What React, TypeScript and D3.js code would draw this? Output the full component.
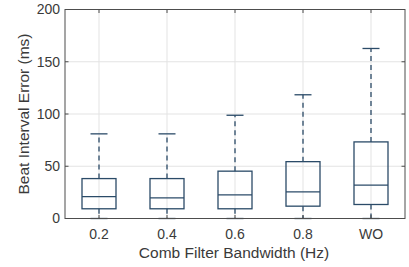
import { useEffect, useRef } from 'react';
import * as d3 from 'd3';

const categories = ['0.2', '0.4', '0.6', '0.8', 'WO'];
const q1 = [9.3, 9.3, 9.3, 11.8, 13.4];
const medians = [21, 19.8, 22.6, 25.5, 31.9];
const q3 = [38.2, 38.2, 45.3, 54.4, 73.3];
const whiskLo = [0, 0, 0, 0, 0];
const whiskHi = [81, 81, 98.8, 118.4, 162.7];
const yTicks = [0, 50, 100, 150, 200];

const BOX = '#2b4b68';
const TEXT = '#3a3a3a';

export default function App() {
  const svgRef = useRef<SVGSVGElement>(null);

  useEffect(() => {
    if (!svgRef.current) return;
    const W = 409, H = 267, PAD = { t: 9.5, r: 4, b: 48.5, l: 65 };
    const svg = d3.select(svgRef.current);
    svg.selectAll('*').remove();
    svg.attr('width', W).attr('height', H);

    const x = d3.scaleBand().domain(categories).range([PAD.l, W - PAD.r]);
    const y = d3.scaleLinear().domain([0, 200]).range([H - PAD.b, PAD.t]);
    const font = 'Helvetica, Arial, "Liberation Sans", sans-serif';

    // grid
    yTicks.forEach(t => {
      svg.append('line')
        .attr('x1', PAD.l).attr('x2', W - PAD.r).attr('y1', y(t)).attr('y2', y(t))
        .attr('stroke', '#e3e3e3').attr('stroke-width', 1);
    });
    categories.forEach(c => {
      const cx = x(c)! + x.bandwidth() / 2;
      svg.append('line')
        .attr('x1', cx).attr('x2', cx).attr('y1', PAD.t).attr('y2', H - PAD.b)
        .attr('stroke', '#e3e3e3').attr('stroke-width', 1);
    });

    // boxes
    const bw = x.bandwidth() / 2;
    categories.forEach((c, i) => {
      const cx = x(c)! + x.bandwidth() / 2;
      const g = svg.append('g').attr('stroke', BOX).attr('fill', 'none').attr('stroke-width', 1.3);
      g.append('line').attr('x1', cx).attr('x2', cx).attr('y1', y(q3[i])).attr('y2', y(whiskHi[i]))
        .attr('stroke-dasharray', '5,4');
      g.append('line').attr('x1', cx).attr('x2', cx).attr('y1', y(q1[i])).attr('y2', y(whiskLo[i]))
        .attr('stroke-dasharray', '5,4');
      [whiskHi[i], whiskLo[i]].forEach(v => {
        g.append('line').attr('x1', cx - bw / 4).attr('x2', cx + bw / 4).attr('y1', y(v)).attr('y2', y(v));
      });
      g.append('rect').attr('x', cx - bw / 2).attr('width', bw)
        .attr('y', y(q3[i])).attr('height', y(q1[i]) - y(q3[i]));
      g.append('line').attr('x1', cx - bw / 2).attr('x2', cx + bw / 2)
        .attr('y1', y(medians[i])).attr('y2', y(medians[i]));
    });

    // axes box
    const ax = svg.append('g').attr('stroke', '#4d4d4d').attr('stroke-width', 1).attr('fill', 'none');
    ax.append('rect').attr('x', PAD.l).attr('y', PAD.t)
      .attr('width', W - PAD.r - PAD.l).attr('height', H - PAD.b - PAD.t);
    yTicks.forEach(t => {
      ax.append('line').attr('x1', PAD.l).attr('x2', PAD.l + 3.5).attr('y1', y(t)).attr('y2', y(t));
      ax.append('line').attr('x1', W - PAD.r).attr('x2', W - PAD.r - 3.5).attr('y1', y(t)).attr('y2', y(t));
      svg.append('text').attr('x', PAD.l - 5).attr('y', y(t)).attr('dy', '0.35em')
        .attr('text-anchor', 'end').attr('font-family', font).attr('font-size', 14)
        .attr('fill', TEXT).text(t);
    });
    categories.forEach(c => {
      const cx = x(c)! + x.bandwidth() / 2;
      ax.append('line').attr('x1', cx).attr('x2', cx).attr('y1', H - PAD.b).attr('y2', H - PAD.b - 3.5);
      ax.append('line').attr('x1', cx).attr('x2', cx).attr('y1', PAD.t).attr('y2', PAD.t + 3.5);
      svg.append('text').attr('x', cx).attr('y', 234).attr('dy', '0.35em')
        .attr('text-anchor', 'middle').attr('font-family', font).attr('font-size', 14)
        .attr('fill', TEXT).text(c);
    });

    svg.append('text').attr('x', (PAD.l + W - PAD.r) / 2 - 1).attr('y', 253).attr('dy', '0.35em')
      .attr('text-anchor', 'middle').attr('font-family', font).attr('font-size', 15.5)
      .attr('fill', TEXT).text('Comb Filter Bandwidth (Hz)');
    svg.append('text')
      .attr('transform', `translate(24,${(PAD.t + H - PAD.b) / 2}) rotate(-90)`)
      .attr('dy', '0.35em').attr('text-anchor', 'middle').attr('font-family', font)
      .attr('font-size', 15.5).attr('fill', TEXT).text('Beat Interval Error (ms)');
  }, []);

  return (
    <div style={{ position: 'fixed', left: 0, top: 0, background: '#fff' }}>
      <svg ref={svgRef} style={{ display: 'block' }} />
    </div>
  );
}
